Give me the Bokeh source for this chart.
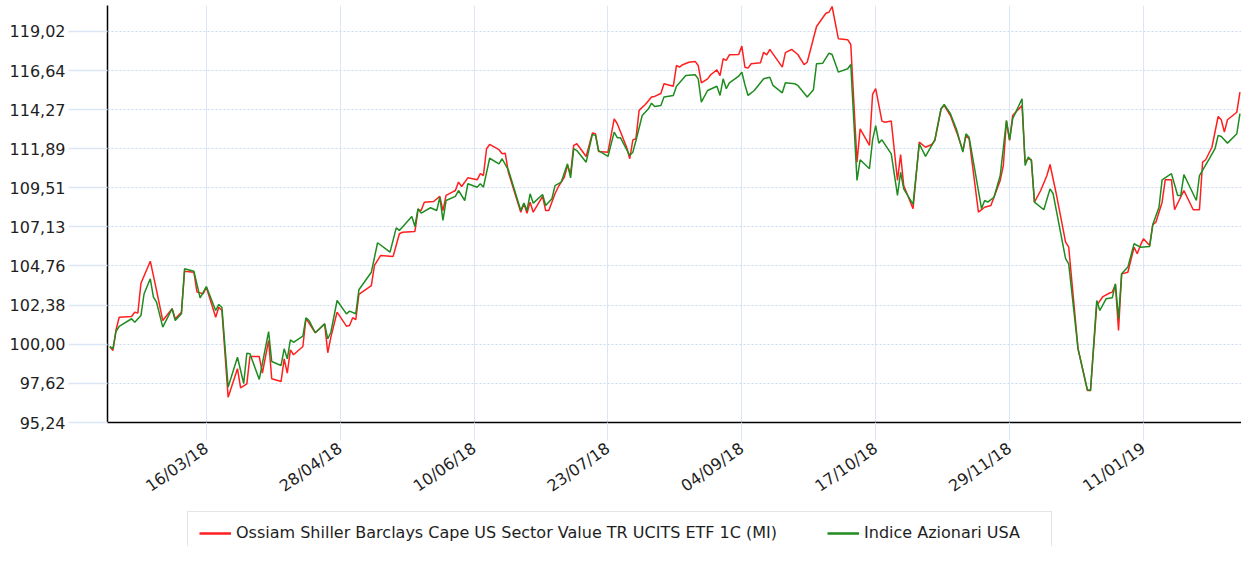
import math
import pandas as pd
from bokeh.plotting import figure
from bokeh.layouts import column
from bokeh.models import (FixedTicker, DatetimeTickFormatter, CustomJSTickFormatter,
                          Range1d, Legend, LegendItem, ColumnDataSource)
from bokeh.embed import file_html
from bokeh.resources import INLINE

red_name = "Ossiam Shiller Barclays Cape US Sector Value TR UCITS ETF 1C (MI)"
green_name = "Indice Azionari USA"

red_dates = [
    "2018-02-13", "2018-02-14", "2018-02-15", "2018-02-16", "2018-02-20", "2018-02-21", "2018-02-22", "2018-02-23", "2018-02-26", "2018-02-28",
    "2018-03-02", "2018-03-05", "2018-03-06", "2018-03-08", "2018-03-09", "2018-03-12", "2018-03-13", "2018-03-15", "2018-03-16", "2018-03-19",
    "2018-03-20", "2018-03-21", "2018-03-23", "2018-03-26", "2018-03-27", "2018-03-29", "2018-03-30", "2018-04-02", "2018-04-03", "2018-04-05",
    "2018-04-06", "2018-04-09", "2018-04-10", "2018-04-11", "2018-04-12", "2018-04-13", "2018-04-16", "2018-04-17", "2018-04-20", "2018-04-23",
    "2018-04-24", "2018-04-25", "2018-04-27", "2018-04-30", "2018-05-01", "2018-05-02", "2018-05-03", "2018-05-04", "2018-05-08", "2018-05-09",
    "2018-05-11", "2018-05-15", "2018-05-17", "2018-05-18", "2018-05-22", "2018-05-23", "2018-05-24", "2018-05-25", "2018-05-28", "2018-05-30",
    "2018-05-31", "2018-06-01", "2018-06-03", "2018-06-04", "2018-06-05", "2018-06-06", "2018-06-08", "2018-06-11", "2018-06-12", "2018-06-13",
    "2018-06-14", "2018-06-15", "2018-06-18", "2018-06-19", "2018-06-20", "2018-06-21", "2018-06-25", "2018-06-26", "2018-06-27", "2018-06-28",
    "2018-06-29", "2018-07-02", "2018-07-03", "2018-07-04", "2018-07-06", "2018-07-07", "2018-07-09", "2018-07-10", "2018-07-11", "2018-07-12",
    "2018-07-13", "2018-07-16", "2018-07-18", "2018-07-19", "2018-07-20", "2018-07-23", "2018-07-25", "2018-07-26", "2018-07-29", "2018-07-30",
    "2018-07-31", "2018-08-01", "2018-08-02", "2018-08-04", "2018-08-06", "2018-08-07", "2018-08-09", "2018-08-10", "2018-08-13", "2018-08-14",
    "2018-08-15", "2018-08-16", "2018-08-18", "2018-08-20", "2018-08-21", "2018-08-22", "2018-08-24", "2018-08-25", "2018-08-27", "2018-08-28",
    "2018-08-29", "2018-08-30", "2018-08-31", "2018-09-03", "2018-09-04", "2018-09-05", "2018-09-06", "2018-09-07", "2018-09-10", "2018-09-11",
    "2018-09-12", "2018-09-13", "2018-09-14", "2018-09-17", "2018-09-18", "2018-09-20", "2018-09-22", "2018-09-24", "2018-09-25", "2018-09-28",
    "2018-10-01", "2018-10-02", "2018-10-03", "2018-10-05", "2018-10-08", "2018-10-09", "2018-10-11", "2018-10-12", "2018-10-15", "2018-10-16",
    "2018-10-17", "2018-10-19", "2018-10-20", "2018-10-22", "2018-10-24", "2018-10-25", "2018-10-26", "2018-10-29", "2018-10-31", "2018-11-02",
    "2018-11-04", "2018-11-05", "2018-11-07", "2018-11-08", "2018-11-10", "2018-11-12", "2018-11-14", "2018-11-15", "2018-11-16", "2018-11-19",
    "2018-11-21", "2018-11-23", "2018-11-26", "2018-11-27", "2018-11-28", "2018-11-29", "2018-11-30", "2018-12-03", "2018-12-04", "2018-12-05",
    "2018-12-06", "2018-12-07", "2018-12-09", "2018-12-11", "2018-12-12", "2018-12-14", "2018-12-17", "2018-12-18", "2018-12-21", "2018-12-24",
    "2018-12-25", "2018-12-27", "2018-12-29", "2018-12-31", "2019-01-01", "2019-01-02", "2019-01-03", "2019-01-04", "2019-01-06", "2019-01-08",
    "2019-01-09", "2019-01-10", "2019-01-11", "2019-01-13", "2019-01-14", "2019-01-15", "2019-01-17", "2019-01-18", "2019-01-20", "2019-01-21",
    "2019-01-24", "2019-01-27", "2019-01-29", "2019-01-30", "2019-01-31", "2019-02-02", "2019-02-04", "2019-02-05", "2019-02-06", "2019-02-07",
    "2019-02-10", "2019-02-11",
]
red_values = [
    99.86, 99.62, 100.88, 101.64, 101.69, 101.95, 101.89, 103.71, 105.05, 103.27,
    101.44, 102.16, 101.55, 101.95, 104.44, 104.38, 103.17, 103.07, 103.47, 101.64,
    102.25, 102.05, 96.78, 98.51, 97.35, 97.59, 99.25, 99.25, 98.24, 100.23,
    97.90, 97.73, 99.11, 98.24, 99.66, 99.36, 99.86, 101.57, 100.70, 101.24,
    99.48, 100.43, 101.95, 101.10, 101.14, 101.61, 101.49, 103.03, 103.57, 104.79,
    105.40, 105.34, 106.72, 106.81, 106.86, 108.18, 108.13, 108.64, 108.68, 108.99,
    108.13, 109.05, 109.25, 109.35, 109.86, 109.59, 110.12, 110.00, 110.37, 110.26,
    111.89, 112.15, 111.83, 111.58, 111.62, 110.46, 108.03, 108.54, 107.97, 108.64,
    108.03, 108.99, 108.13, 108.13, 109.15, 109.55, 110.16, 110.87, 110.37, 112.09,
    112.19, 111.42, 112.84, 112.80, 111.72, 111.68, 113.71, 113.41, 111.98, 111.28,
    112.43, 112.50, 114.22, 114.58, 115.03, 115.07, 115.25, 115.84, 115.69, 116.95,
    116.85, 117.00, 117.15, 117.20, 116.95, 115.90, 116.14, 116.39, 116.69, 116.34,
    117.36, 117.26, 117.60, 117.62, 118.13, 116.85, 116.79, 117.06, 117.12, 117.76,
    117.60, 117.93, 117.66, 116.85, 117.73, 117.93, 117.62, 117.01, 117.15, 119.32,
    120.13, 120.19, 120.54, 118.58, 118.52, 118.23, 111.07, 113.10, 112.09, 115.19,
    115.54, 113.57, 113.50, 113.57, 109.96, 111.54, 109.65, 108.24, 112.29, 111.98,
    112.15, 112.39, 114.32, 114.52, 113.91, 112.90, 111.78, 112.70, 112.50, 108.03,
    108.33, 108.44, 109.96, 110.87, 113.57, 112.39, 113.91, 114.52, 111.07, 111.28,
    111.22, 108.64, 109.35, 110.26, 110.93, 109.15, 106.21, 105.90, 99.72, 97.19,
    97.19, 102.36, 102.90, 103.10, 103.17, 103.63, 100.84, 104.28, 104.38, 105.90,
    105.50, 106.01, 106.41, 106.01, 107.28, 107.42, 108.64, 110.00, 110.00, 108.18,
    109.35, 108.18, 108.18, 111.07, 111.22, 111.98, 113.85, 113.65, 112.90, 113.65,
    114.11, 115.33,
]

green_dates = [
    "2018-02-13", "2018-02-14", "2018-02-15", "2018-02-16", "2018-02-20", "2018-02-21", "2018-02-23", "2018-02-24", "2018-02-26", "2018-02-27",
    "2018-02-28", "2018-03-02", "2018-03-05", "2018-03-06", "2018-03-08", "2018-03-09", "2018-03-12", "2018-03-14", "2018-03-16", "2018-03-19",
    "2018-03-20", "2018-03-21", "2018-03-23", "2018-03-26", "2018-03-28", "2018-03-29", "2018-03-30", "2018-04-02", "2018-04-05", "2018-04-06",
    "2018-04-09", "2018-04-10", "2018-04-11", "2018-04-12", "2018-04-13", "2018-04-16", "2018-04-17", "2018-04-18", "2018-04-20", "2018-04-23",
    "2018-04-24", "2018-04-25", "2018-04-27", "2018-04-30", "2018-05-01", "2018-05-03", "2018-05-04", "2018-05-08", "2018-05-10", "2018-05-14",
    "2018-05-16", "2018-05-17", "2018-05-21", "2018-05-22", "2018-05-23", "2018-05-24", "2018-05-27", "2018-05-29", "2018-05-30", "2018-05-31",
    "2018-06-01", "2018-06-04", "2018-06-05", "2018-06-07", "2018-06-08", "2018-06-11", "2018-06-12", "2018-06-13", "2018-06-15", "2018-06-18",
    "2018-06-19", "2018-06-21", "2018-06-25", "2018-06-26", "2018-06-27", "2018-06-28", "2018-06-29", "2018-07-02", "2018-07-03", "2018-07-05",
    "2018-07-06", "2018-07-08", "2018-07-10", "2018-07-11", "2018-07-12", "2018-07-13", "2018-07-16", "2018-07-18", "2018-07-19", "2018-07-20",
    "2018-07-23", "2018-07-25", "2018-07-26", "2018-07-27", "2018-07-30", "2018-07-31", "2018-08-01", "2018-08-03", "2018-08-05", "2018-08-06",
    "2018-08-07", "2018-08-09", "2018-08-10", "2018-08-13", "2018-08-14", "2018-08-15", "2018-08-17", "2018-08-20", "2018-08-21", "2018-08-22",
    "2018-08-24", "2018-08-27", "2018-08-28", "2018-08-29", "2018-08-30", "2018-08-31", "2018-09-03", "2018-09-04", "2018-09-05", "2018-09-06",
    "2018-09-08", "2018-09-11", "2018-09-13", "2018-09-14", "2018-09-17", "2018-09-18", "2018-09-21", "2018-09-22", "2018-09-25", "2018-09-27",
    "2018-09-28", "2018-09-30", "2018-10-02", "2018-10-03", "2018-10-05", "2018-10-08", "2018-10-09", "2018-10-11", "2018-10-12", "2018-10-15",
    "2018-10-16", "2018-10-17", "2018-10-18", "2018-10-19", "2018-10-22", "2018-10-24", "2018-10-25", "2018-10-26", "2018-10-29", "2018-10-31",
    "2018-11-02", "2018-11-05", "2018-11-07", "2018-11-08", "2018-11-10", "2018-11-12", "2018-11-14", "2018-11-15", "2018-11-16", "2018-11-20",
    "2018-11-21", "2018-11-22", "2018-11-24", "2018-11-26", "2018-11-28", "2018-11-29", "2018-11-30", "2018-12-03", "2018-12-04", "2018-12-05",
    "2018-12-06", "2018-12-07", "2018-12-10", "2018-12-12", "2018-12-13", "2018-12-17", "2018-12-18", "2018-12-21", "2018-12-24", "2018-12-25",
    "2018-12-27", "2018-12-28", "2018-12-30", "2019-01-01", "2019-01-02", "2019-01-03", "2019-01-04", "2019-01-06", "2019-01-08", "2019-01-10",
    "2019-01-13", "2019-01-14", "2019-01-16", "2019-01-17", "2019-01-20", "2019-01-22", "2019-01-23", "2019-01-24", "2019-01-28", "2019-01-29",
    "2019-02-01", "2019-02-03", "2019-02-04", "2019-02-05", "2019-02-07", "2019-02-10", "2019-02-11",
]
green_values = [
    99.86, 99.72, 100.79, 101.08, 101.55, 101.34, 101.75, 103.07, 103.98, 102.86,
    102.56, 101.04, 102.16, 101.44, 101.85, 104.59, 104.44, 102.82, 103.51, 102.05,
    102.42, 102.25, 97.39, 99.21, 97.61, 99.45, 99.42, 97.86, 100.77, 98.95,
    98.71, 99.72, 99.11, 100.27, 100.12, 100.49, 101.61, 101.44, 100.70, 101.24,
    100.33, 100.73, 102.66, 101.85, 102.01, 101.85, 103.31, 104.38, 106.17, 105.60,
    107.08, 106.92, 107.77, 107.16, 108.24, 107.97, 108.30, 108.13, 108.94, 107.53,
    108.74, 108.99, 109.35, 108.74, 109.76, 109.55, 109.76, 109.55, 111.31, 110.97,
    111.28, 110.61, 108.13, 108.58, 108.13, 109.15, 108.58, 109.11, 108.44, 108.85,
    109.65, 109.86, 110.97, 110.12, 111.89, 111.78, 111.07, 112.76, 112.70, 111.78,
    111.42, 112.90, 112.56, 112.56, 111.48, 111.68, 112.39, 113.91, 114.32, 114.66,
    114.46, 114.52, 115.03, 115.13, 115.69, 115.90, 116.34, 116.39, 116.14, 114.72,
    115.43, 115.69, 115.13, 116.14, 115.54, 115.90, 116.30, 116.55, 115.78, 115.13,
    115.43, 116.14, 116.24, 115.74, 115.29, 115.90, 115.84, 115.74, 115.03, 115.48,
    117.06, 117.09, 117.70, 117.62, 116.55, 116.75, 117.01, 109.96, 111.22, 110.67,
    112.43, 113.30, 112.23, 112.43, 111.58, 109.05, 110.46, 109.45, 108.50, 112.19,
    111.42, 112.43, 114.32, 114.58, 114.02, 113.04, 111.68, 112.80, 112.59, 108.24,
    108.74, 108.64, 108.94, 110.26, 113.61, 112.43, 113.71, 114.93, 110.87, 111.38,
    111.18, 108.64, 108.18, 109.45, 109.15, 105.20, 104.89, 99.72, 97.23, 97.19,
    102.66, 102.05, 102.76, 102.82, 103.68, 101.55, 104.28, 104.69, 106.11, 105.90,
    105.94, 107.28, 108.33, 110.00, 110.37, 109.05, 109.05, 110.32, 108.74, 110.26,
    111.22, 111.89, 112.70, 112.63, 112.23, 112.80, 114.02,
]

y_ticks = [95.24, 97.62, 100.00, 102.38, 104.76, 107.13, 109.51, 111.89, 114.27, 116.64, 119.02]
x_tick_dates = ["2018-03-16", "2018-04-28", "2018-06-10", "2018-07-23",
                "2018-09-04", "2018-10-17", "2018-11-29", "2019-01-11"]

FONT = "DejaVu Sans"
GRID_BLUE = "#dbe7f5"
RED = "#ff1f1f"
GREEN = "#1f8c1f"

red_src = ColumnDataSource(dict(x=pd.to_datetime(red_dates), y=red_values))
green_src = ColumnDataSource(dict(x=pd.to_datetime(green_dates), y=green_values))

# ---- main chart ----
p = figure(width=1241, height=506, x_axis_type="datetime",
           output_backend="svg", toolbar_location=None,
           x_range=Range1d(pd.Timestamp("2018-02-12 06:00"), pd.Timestamp("2019-02-11 12:00")),
           y_range=Range1d(95.24, 120.60),
           min_border_left=107, min_border_right=0, min_border_top=5, min_border_bottom=84)
p.outline_line_color = None
p.background_fill_color = "white"
p.border_fill_color = "white"

p.line("x", "y", source=red_src, line_color=RED, line_width=1.5)
p.line("x", "y", source=green_src, line_color=GREEN, line_width=1.5)

# y axis
p.yaxis.ticker = FixedTicker(ticks=y_ticks)
p.yaxis.formatter = CustomJSTickFormatter(code="return tick.toFixed(2).replace('.', ',');")
p.yaxis.major_tick_out = 39
p.yaxis.major_tick_in = 0
p.yaxis.major_tick_line_color = GRID_BLUE
p.yaxis.major_tick_line_width = 1.5
p.yaxis.minor_tick_line_color = None
p.yaxis.axis_line_color = "black"
p.yaxis.axis_line_width = 1.5
p.yaxis.major_label_standoff = 3
p.yaxis.major_label_text_font = FONT
p.yaxis.major_label_text_font_size = "16px"
p.yaxis.major_label_text_color = "#1e1e1e"

# x axis
x_tick_ms = [pd.Timestamp(d).value / 1e6 for d in x_tick_dates]
p.xaxis.ticker = FixedTicker(ticks=x_tick_ms)
fmt = "%d/%m/%y"
p.xaxis.formatter = DatetimeTickFormatter(
    microseconds=fmt, milliseconds=fmt, seconds=fmt, minsec=fmt, minutes=fmt,
    hourmin=fmt, hours=fmt, days=fmt, months=fmt, years=fmt)
p.xaxis.major_label_orientation = math.radians(35)
p.xaxis.major_tick_out = 18
p.xaxis.major_tick_in = 0
p.xaxis.major_tick_line_color = GRID_BLUE
p.xaxis.minor_tick_line_color = None
p.xaxis.axis_line_color = "black"
p.xaxis.axis_line_width = 1.5
p.xaxis.major_label_standoff = 6
p.xaxis.major_label_text_font = FONT
p.xaxis.major_label_text_font_size = "16px"
p.xaxis.major_label_text_color = "#1e1e1e"

# grids
p.xgrid.grid_line_color = GRID_BLUE
p.xgrid.grid_line_width = 1
p.ygrid.grid_line_color = "#c9dbef"
p.ygrid.grid_line_dash = "2 2"
p.ygrid.grid_line_width = 1

# ---- legend strip (separate figure so the legend is never clipped) ----
lg = figure(width=1241, height=40, output_backend="svg", toolbar_location=None,
            x_range=Range1d(0, 1), y_range=Range1d(0, 1),
            x_axis_location=None, y_axis_location=None,
            min_border_left=107, min_border_right=0, min_border_top=0, min_border_bottom=0)
lg.outline_line_color = None
lg.xgrid.visible = False
lg.ygrid.visible = False
lg.background_fill_color = "white"
lg.border_fill_color = "white"
# legend keys: single off-range points, so only the legend swatch is drawn
key_red = lg.line(x=[5], y=[5], line_color=RED, line_width=2.5)
key_green = lg.line(x=[5], y=[5], line_color=GREEN, line_width=2.5)

legend = Legend(
    items=[LegendItem(label=red_name, renderers=[key_red]),
           LegendItem(label=green_name, renderers=[key_green])],
    orientation="horizontal", location=(80, -8),
    border_line_color="#cccccc", border_line_width=1,
    background_fill_color="white", background_fill_alpha=1.0,
    label_text_font=FONT, label_text_font_size="16px", label_text_color="#1e1e1e",
    label_standoff=5, glyph_width=32, glyph_height=18, label_height=18, spacing=50,
    padding=11, margin=0, label_width=176,
)
lg.add_layout(legend)

layout = column(p, lg, spacing=0)
open("out.html", "w").write(file_html(layout, INLINE))
